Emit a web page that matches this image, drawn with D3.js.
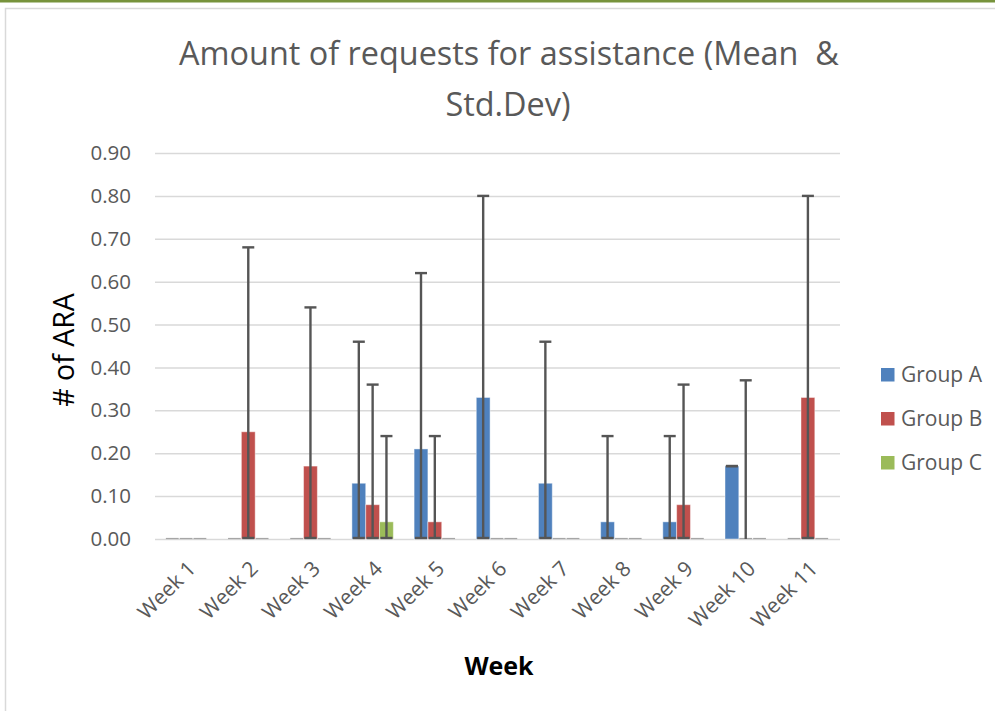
<!DOCTYPE html>
<html>
<head>
<meta charset="utf-8">
<script src="https://cdn.jsdelivr.net/npm/d3@7"></script>
<style>
  html, body { margin: 0; padding: 0; background: #fff; }
  svg { display: block; }
</style>
</head>
<body>
<svg id="chart" width="995" height="711"></svg>
<script>
// ---- Data ----
const weeks = ["Week 1","Week 2","Week 3","Week 4","Week 5","Week 6","Week 7","Week 8","Week 9","Week 10","Week 11"];
const groups = ["Group A","Group B","Group C"];
const meanA = [0, 0, 0, 0.13, 0.21, 0.33, 0.13, 0.04, 0.04, 0.17, 0];
const meanB = [0, 0.25, 0.17, 0.08, 0.04, 0, 0, 0, 0.08, 0, 0.33];
const meanC = [0, 0, 0, 0.04, 0, 0, 0, 0, 0, 0, 0];
const sdA = [0, 0, 0, 0.33, 0.41, 0.47, 0.33, 0.20, 0.20, 0, 0];
const sdB = [0, 0.43, 0.37, 0.28, 0.20, 0, 0, 0, 0.28, 0.37, 0.47];
const sdC = [0, 0, 0, 0.20, 0, 0, 0, 0, 0, 0, 0];
const yTicks = [0, 0.1, 0.2, 0.3, 0.4, 0.5, 0.6, 0.7, 0.8, 0.9];
const titleLines = ["Amount of requests for assistance (Mean  &", "Std.Dev)"];
const yTitle = "# of ARA";
const xTitle = "Week";

const colors = { "Group A": "#4f81bd", "Group B": "#c0504d", "Group C": "#9bbb59" };
const means = { "Group A": meanA, "Group B": meanB, "Group C": meanC };
const sds = { "Group A": sdA, "Group B": sdB, "Group C": sdC };

const rows = [];
weeks.forEach((w, i) => groups.forEach(g => rows.push({ week: w, group: g, mean: means[g][i], sd: sds[g][i] })));

// ---- Layout ----
const svg = d3.select("#chart");
const FONT = "'Open Sans', 'Noto Sans', sans-serif";
const plot = { left: 155, right: 839, top: 153, bottom: 539 };

// frame
svg.append("rect").attr("x", 5.5).attr("y", 8.5).attr("width", 1000).attr("height", 720)
  .attr("fill", "#fff").attr("stroke", "#d9d9d9").attr("stroke-width", 1.5);
svg.append("rect").attr("x", 0).attr("y", 0).attr("width", 995).attr("height", 2.5).attr("fill", "#77933c");

const x0 = d3.scaleBand().domain(weeks).range([plot.left, plot.right]).paddingInner(0).paddingOuter(0);
const step = x0.bandwidth();
const barW = step / 4.5;
const x1 = d3.scaleBand().domain(groups).range([barW * 0.75, step - barW * 0.75]).padding(0);
const y = d3.scaleLinear().domain([0, 0.9]).range([plot.bottom, plot.top]);

// gridlines
const grid = svg.append("g").attr("transform", `translate(${plot.left},0)`)
  .call(d3.axisLeft(y).tickValues(yTicks).tickSize(-(plot.right - plot.left + 1)).tickFormat(""));
grid.select(".domain").remove();
grid.selectAll(".tick line").attr("stroke", "#d9d9d9").attr("stroke-width", 1.5);

// y axis labels
const yAxis = svg.append("g").attr("transform", `translate(${plot.left},0)`)
  .call(d3.axisLeft(y).tickValues(yTicks).tickSize(0).tickPadding(24).tickFormat(d3.format(".2f")));
yAxis.select(".domain").remove();
yAxis.selectAll("text").attr("font-family", FONT).attr("font-size", 20.5).attr("fill", "#595959");

// bars
const bars = svg.append("g");
rows.forEach(d => {
  const bx = x0(d.week) + x1(d.group);
  if (d.mean > 0) {
    bars.append("rect")
      .attr("x", bx).attr("y", y(d.mean))
      .attr("width", x1.bandwidth()).attr("height", y(0) - y(d.mean))
      .attr("fill", colors[d.group])
      .attr("stroke", "#ffffff").attr("stroke-opacity", 0.45).attr("stroke-width", 1);
  } else {
    bars.append("line")
      .attr("x1", bx + 0.5).attr("x2", bx + x1.bandwidth() - 0.5)
      .attr("y1", y(0) - 0.5).attr("y2", y(0) - 0.5)
      .attr("stroke", "#a6a6a6").attr("stroke-width", 1.2);
  }
});

// error bars
const eb = svg.append("g").attr("stroke", "#555555").attr("stroke-width", 2.4);
const capW = 12;
rows.forEach(d => {
  if (d.mean === 0 && d.sd === 0) return;
  const cx = x0(d.week) + x1(d.group) + x1.bandwidth() / 2;
  const hi = d.mean + d.sd;
  const lo = Math.max(0, d.mean - d.sd);
  const yHi = y(hi), yLo = lo === 0 ? y(0) - 1 : y(lo);
  eb.append("line").attr("x1", cx).attr("x2", cx).attr("y1", yHi).attr("y2", y(lo));
  eb.append("line").attr("x1", cx - capW / 2).attr("x2", cx + capW / 2).attr("y1", yHi).attr("y2", yHi);
  if (d.mean > 0) {
    eb.append("line").attr("x1", cx - capW / 2).attr("x2", cx + capW / 2).attr("y1", yLo).attr("y2", yLo);
  }
});

// x labels (rotated)
const xAxis = svg.append("g").attr("transform", `translate(0,${plot.bottom})`)
  .call(d3.axisBottom(x0).tickSize(0).tickPadding(0));
xAxis.select(".domain").remove();
xAxis.selectAll(".tick text")
  .attr("font-family", FONT).attr("font-size", 21).attr("fill", "#595959")
  .attr("text-anchor", "end").attr("dy", 0).attr("y", 0)
  .attr("transform", "translate(11,31) rotate(-45)");

// title
svg.append("text").attr("x", 509).attr("y", 65).attr("text-anchor", "middle")
  .attr("font-family", FONT).attr("font-size", 32.4).attr("fill", "#595959")
  .attr("xml:space", "preserve").style("white-space", "pre")
  .text(titleLines[0]);
svg.append("text").attr("x", 508).attr("y", 116).attr("text-anchor", "middle")
  .attr("font-family", FONT).attr("font-size", 32.4).attr("fill", "#595959")
  .text(titleLines[1]);

// axis titles
svg.append("text").attr("transform", "translate(74,350) rotate(-90)").attr("text-anchor", "middle")
  .attr("font-family", FONT).attr("font-size", 28.5).attr("fill", "#000").text(yTitle);
svg.append("text").attr("x", 499).attr("y", 675).attr("text-anchor", "middle")
  .attr("font-family", FONT).attr("font-size", 25).attr("font-weight", "bold").attr("fill", "#000").text(xTitle);

// legend
const leg = svg.append("g").attr("transform", "translate(881,375)");
groups.forEach((g, i) => {
  const r = leg.append("g").attr("transform", `translate(0,${i * 44})`);
  r.append("rect").attr("x", 0).attr("y", -7).attr("width", 13.5).attr("height", 13.5).attr("fill", colors[g]);
  r.append("text").attr("x", 20).attr("y", 0).attr("dy", "0.35em")
    .attr("font-family", FONT).attr("font-size", 21).attr("fill", "#595959").text(g);
});
</script>
</body>
</html>
